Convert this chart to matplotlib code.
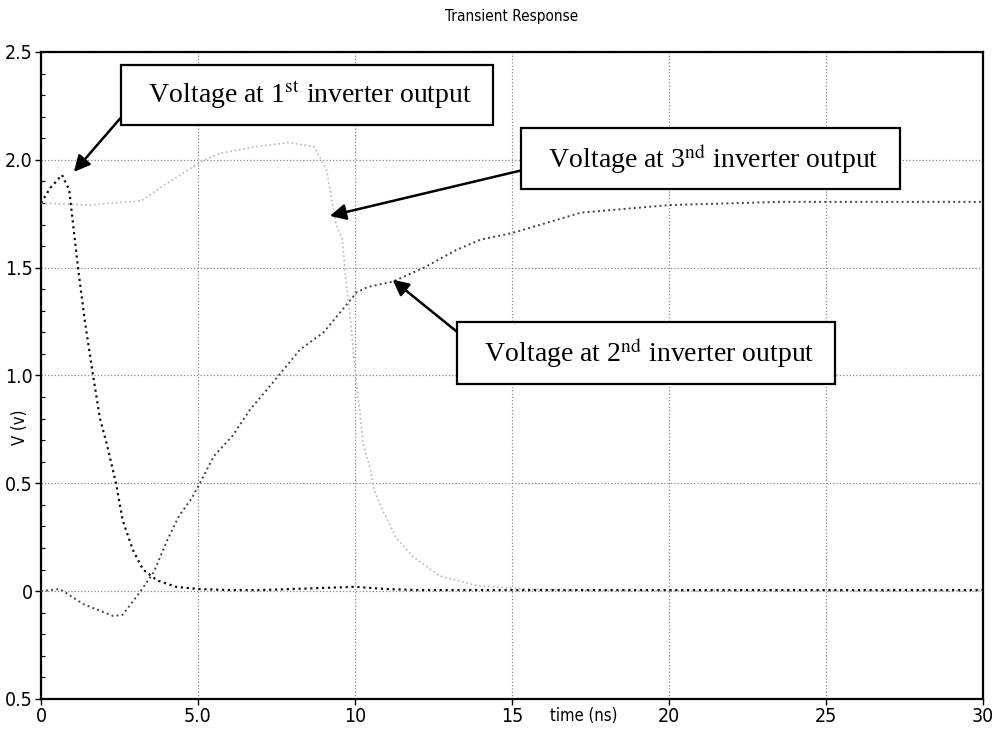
import matplotlib.pyplot as plt
from matplotlib.ticker import MultipleLocator

plt.rcParams['mathtext.fontset'] = 'stix'

# 1st inverter output (dark dotted)
t1 = [0, 0.3, 0.67, 0.9, 1.18, 1.4, 1.66, 1.88, 2.1, 2.39, 2.6, 2.93, 3.25,
      3.7, 4.3, 5.0, 6.0, 7.0, 8.0, 9.0, 10.0, 11.0, 12.0, 15.0, 20.0, 25.0, 30.0]
v1 = [1.80, 1.87, 1.93, 1.86, 1.50, 1.25, 1.00, 0.80, 0.68, 0.50, 0.33, 0.19, 0.10,
      0.05, 0.02, 0.01, 0.005, 0.005, 0.01, 0.015, 0.02, 0.01, 0.005, 0.005, 0.005, 0.005, 0.005]

# 2nd inverter output (medium dotted)
t2 = [0, 0.6, 1.35, 2.3, 2.6, 3.15, 3.6, 4.0, 4.4, 4.8, 5.06, 5.5, 6.1, 6.65, 7.4,
      8.25, 9.0, 9.6, 10.05, 10.4, 11.2, 12.2, 13.2, 14.0, 15.0, 17.2, 20.0, 23.5, 30.0]
v2 = [0.0, 0.01, -0.06, -0.115, -0.11, -0.005, 0.09, 0.23, 0.35, 0.43, 0.50, 0.625, 0.72,
      0.84, 0.97, 1.12, 1.20, 1.305, 1.385, 1.41, 1.435, 1.50, 1.58, 1.63, 1.66, 1.755,
      1.79, 1.805, 1.805]

# 3rd inverter output (light dotted)
t3 = [0, 1.5, 3.2, 3.9, 4.65, 5.2, 5.7, 6.8, 7.9, 8.7, 9.1, 9.4, 9.6, 9.7, 9.85,
      10.0, 10.15, 10.25, 10.5, 10.6, 10.9, 11.3, 11.85, 12.7, 13.9, 15.5, 17.0, 20.0, 30.0]
v3 = [1.80, 1.79, 1.81, 1.88, 1.95, 2.00, 2.03, 2.06, 2.08, 2.06, 1.95, 1.70, 1.63,
      1.46, 1.27, 1.03, 0.84, 0.69, 0.56, 0.47, 0.37, 0.25, 0.16, 0.07, 0.025, 0.01,
      0.005, 0.0, 0.0]

xticks = [0, 5, 10, 15, 20, 25, 30]
xlabels = ['0', '5.0', '10', '15', '20', '25', '30']
yticks = [-0.5, 0, 0.5, 1.0, 1.5, 2.0, 2.5]
ylabels = ['0.5', '0', '0.5', '1.0', '1.5', '2.0', '2.5']

narrow = dict(family='DejaVu Sans', fontstretch='condensed')

fig = plt.figure(figsize=(9.94, 7.32), dpi=100)
ax = fig.add_axes([0.0412, 0.0451, 0.9477, 0.8839])

ax.plot(t2, v2, color='#444444', ls=':', lw=1.4, zorder=3)
ax.plot(t3, v3, color='#b8b8b8', ls=':', lw=1.2, zorder=3)
ax.plot(t1, v1, color='#111111', ls=':', lw=1.6, zorder=4)

ax.set_xlim(0, 30)
ax.set_ylim(-0.5, 2.5)
ax.set_xticks(xticks)
ax.set_xticklabels(xlabels, fontsize=14, **narrow)
ax.set_yticks(yticks)
ax.set_yticklabels(ylabels, fontsize=14, **narrow)
ax.yaxis.set_minor_locator(MultipleLocator(0.1))
ax.tick_params(axis='both', which='major', length=4, width=1, pad=2)
ax.tick_params(axis='y', which='minor', direction='in', length=3, width=0.8)
ax.grid(True, which='major', ls=':', color='#888888', lw=0.9)
for s in ax.spines.values():
    s.set_linewidth(1.6)

ax.set_title('Transient Response', fontsize=11, pad=22, **narrow)
ax.set_ylabel('V (v)', fontsize=12, **narrow)
ax.yaxis.set_label_coords(-0.013, 0.42)
ax.text(17.3, -0.012, 'time (ns)', transform=ax.get_xaxis_transform(),
        ha='center', va='top', fontsize=12, **narrow)

box = dict(boxstyle='square,pad=0.5', fc='white', ec='black', lw=1.6)
arrow = dict(arrowstyle='-|>', color='black', lw=1.8, mutation_scale=24,
             shrinkA=0, shrinkB=0)

ax.annotate(r'  Voltage at 1$^{\rm st}$ inverter output  ', xy=(1.05, 1.944),
            xytext=(8.47, 2.30), ha='center', va='center', fontsize=20,
            family='Liberation Serif', bbox=box, zorder=6,
            arrowprops=dict(arrow, relpos=(0.0, 0.3)))
ax.annotate(r'  Voltage at 3$^{\rm nd}$ inverter output  ', xy=(9.2, 1.74),
            xytext=(21.32, 2.005), ha='center', va='center', fontsize=20,
            family='Liberation Serif', bbox=box, zorder=6,
            arrowprops=dict(arrow, relpos=(0.0, 0.25)))
ax.annotate(r'  Voltage at 2$^{\rm nd}$ inverter output  ', xy=(11.2, 1.444),
            xytext=(19.27, 1.104), ha='center', va='center', fontsize=20,
            family='Liberation Serif', bbox=box, zorder=6,
            arrowprops=dict(arrow, relpos=(0.0, 0.8)))

plt.savefig('out.png', dpi=100)
